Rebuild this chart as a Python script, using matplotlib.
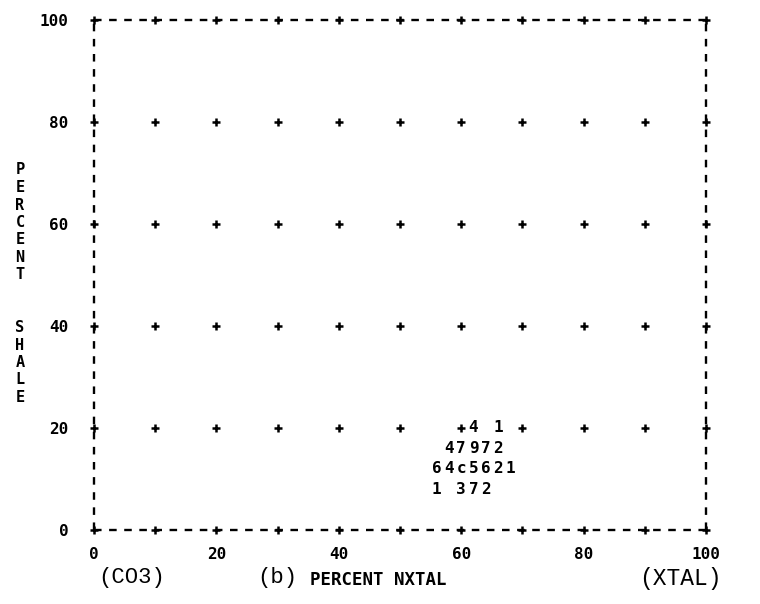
import numpy as np
import matplotlib
matplotlib.use("Agg")
import matplotlib.pyplot as plt

# ---- data ----
x_ticks = [0, 20, 40, 60, 80, 100]
y_ticks = [0, 20, 40, 60, 80, 100]
x_tick_labels = ["0", "20", "40", "60", "80", "100"]
y_tick_labels = ["0", "20", "40", "60", "80", "100"]
grid_x = [0, 10, 20, 30, 40, 50, 60, 70, 80, 90, 100]
grid_y = [0, 20, 40, 60, 80, 100]
# character density rows: (y value, starting x value, characters; step 2 units per char)
row_y = [20, 16, 12, 8]
row_x0 = [62, 58, 56, 56]
row_chars = ["4 1", "47972", "64c5621", "1 372"]
char_step = 2

W, H = 760, 604
fig = plt.figure(figsize=(W / 100, H / 100), dpi=100)
ax = fig.add_axes([94 / W, (H - 530) / H, 612 / W, 510 / H])
ax.set_xlim(0, 100)
ax.set_ylim(0, 100)
for s in ax.spines.values():
    s.set_visible(False)
ax.patch.set_alpha(0)

mono_b = dict(family="DejaVu Sans Mono", weight="bold")

# dashed border
dash = dict(color="black", lw=1.7, linestyle=(0, (3.2, 3.2)), dash_capstyle="butt")
ax.plot([0, 100], [0, 0], **dash, clip_on=False)
ax.plot([0, 100], [100, 100], **dash, clip_on=False)
ax.plot([0, 0], [0, 100], **dash, clip_on=False)
ax.plot([100, 100], [0, 100], **dash, clip_on=False)

# grid plus markers
gx, gy = np.meshgrid(grid_x, grid_y)
ax.scatter(gx.ravel(), gy.ravel(), marker="+", s=32, linewidths=1.8, color="black",
           clip_on=False, zorder=3)

# character data
for yv, x0, chars in zip(row_y, row_x0, row_chars):
    for i, c in enumerate(chars):
        if c == " ":
            continue
        ax.text(x0 + i * char_step, yv, c, ha="center", va="center", fontsize=11.5,
                **mono_b, zorder=4)

# ticks
ax.set_xticks(x_ticks)
ax.set_xticklabels(x_tick_labels, fontsize=11.5, **mono_b)
ax.set_yticks(y_ticks)
ax.set_yticklabels(y_tick_labels, fontsize=11.5, **mono_b)
ax.tick_params(axis="x", length=0, pad=12)
ax.tick_params(axis="y", length=0, pad=18.5)

# y label as stacked letters
ylab = "PERCENT  SHALE"
for i, c in enumerate(ylab):
    if c == " ":
        continue
    fig.text(20 / W, 1 - (170 + i * 17.5) / H, c, ha="center", va="center",
             fontsize=11, **mono_b)

# bottom labels
fig.text(132 / W, 1 - 578 / H, "(CO3)", ha="center", va="center",
         fontsize=16, family="Liberation Mono")
fig.text(277 / W, 1 - 577 / H, "(b)", ha="center", va="center",
         fontsize=16, family="Liberation Mono")
fig.text(378 / W, 1 - 580 / H, "PERCENT NXTAL", ha="center", va="center",
         fontsize=12.5, **mono_b)
fig.text(680 / W, 1 - 578 / H, "(XTAL)", ha="center", va="center",
         fontsize=16.5, family="Liberation Mono")

fig.savefig("out.png", dpi=100)
